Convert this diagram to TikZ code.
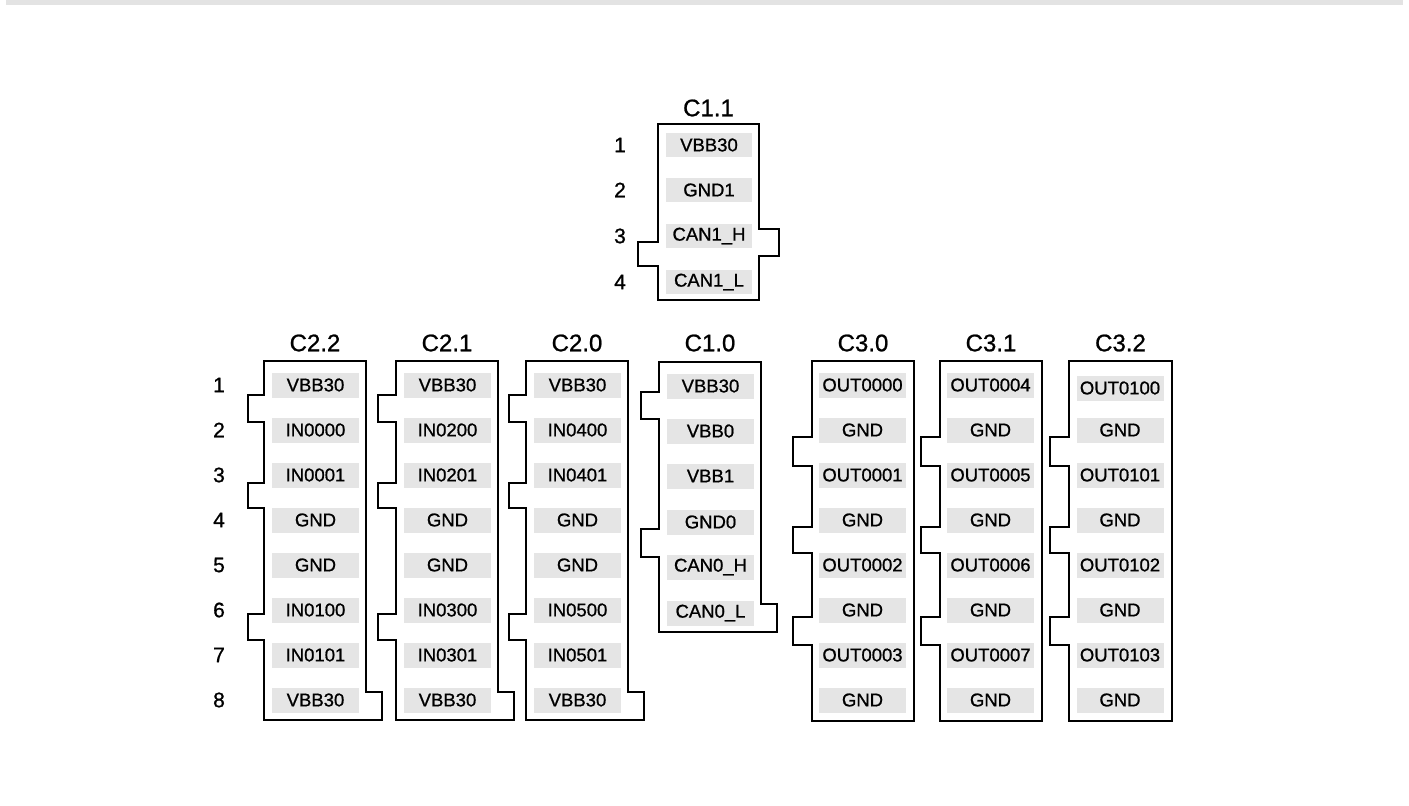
\documentclass[tikz,border=0pt]{standalone}
\usepackage{fontspec}
\setmainfont{Liberation Sans}
\newfontfamily\pinfont{Liberation Sans}[FakeBold=0.9]
\definecolor{pingray}{rgb}{0.9,0.9,0.9}
\definecolor{bargray}{rgb}{0.89,0.89,0.89}
\tikzset{
  shell/.style={line width=2.6pt, line join=miter},
  pinbox/.style={fill=pingray, minimum width=87pt, minimum height=25pt, inner sep=0pt,
    font=\pinfont\fontsize{18.5}{18.5}\selectfont},
  conntitle/.style={inner sep=0pt, font=\pinfont\fontsize{24}{24}\selectfont},
  pinnum/.style={inner sep=0pt, font=\pinfont\fontsize{21}{21}\selectfont}
}

\begin{document}
\begin{tikzpicture}[x=1pt, y=-1pt]
\useasboundingbox (0,0) rectangle (1409,806);
\fill[bargray] (6,0) rectangle (1403,5);

\begin{scope}[shift={(658,124)}]
  \draw[shell] (0,0) -- (101,0) -- (101,105) -- (121,105) -- (121,132) -- (101,132)
    -- (101,176) -- (0,176) -- (0,142) -- (-20,142) -- (-20,118) -- (0,118) -- cycle;
  \node[conntitle] (c11) at (50.5,-16) {C1.1};
  \node[pinbox, minimum width=86pt, minimum height=24pt] (c11p1) at (51,21) {VBB30};
  \node[pinbox, minimum width=86pt, minimum height=24pt] (c11p2) at (51,66) {GND1};
  \node[pinbox, minimum width=86pt, minimum height=24pt] (c11p3) at (51,112) {CAN1\_H};
  \node[pinbox, minimum width=86pt, minimum height=24pt] (c11p4) at (51,158) {CAN1\_L};
  \node[pinnum] (c11n1) at (-38,21) {1};
  \node[pinnum] (c11n2) at (-38,66) {2};
  \node[pinnum] (c11n3) at (-38,112) {3};
  \node[pinnum] (c11n4) at (-38,158) {4};
\end{scope}

\node[pinnum] (n1) at (219,385) {1};
\node[pinnum] (n2) at (219,430) {2};
\node[pinnum] (n3) at (219,475) {3};
\node[pinnum] (n4) at (219,520) {4};
\node[pinnum] (n5) at (219,565) {5};
\node[pinnum] (n6) at (219,610) {6};
\node[pinnum] (n7) at (219,655) {7};
\node[pinnum] (n8) at (219,700) {8};

\begin{scope}[shift={(264,361)}]
  \draw[shell] (0,0) -- (102,0) -- (102,331) -- (118,331) -- (118,359) -- (0,359)
    -- (0,279) -- (-16,279) -- (-16,253) -- (0,253)
    -- (0,147) -- (-16,147) -- (-16,122) -- (0,122)
    -- (0,61) -- (-16,61) -- (-16,34) -- (0,34) -- cycle;
  \node[conntitle] (c22) at (51,-18) {C2.2};
  \node[pinbox] (c22p1) at (51.5,24) {VBB30};
  \node[pinbox] (c22p2) at (51.5,69) {IN0000};
  \node[pinbox] (c22p3) at (51.5,114) {IN0001};
  \node[pinbox] (c22p4) at (51.5,159) {GND};
  \node[pinbox] (c22p5) at (51.5,204) {GND};
  \node[pinbox] (c22p6) at (51.5,249) {IN0100};
  \node[pinbox] (c22p7) at (51.5,294) {IN0101};
  \node[pinbox] (c22p8) at (51.5,339) {VBB30};
\end{scope}

\begin{scope}[shift={(396,361)}]
  \draw[shell] (0,0) -- (102,0) -- (102,331) -- (118,331) -- (118,359) -- (0,359)
    -- (0,279) -- (-18,279) -- (-18,253) -- (0,253)
    -- (0,147) -- (-18,147) -- (-18,122) -- (0,122)
    -- (0,61) -- (-18,61) -- (-18,34) -- (0,34) -- cycle;
  \node[conntitle] (c21) at (51,-18) {C2.1};
  \node[pinbox] (c21p1) at (51.5,24) {VBB30};
  \node[pinbox] (c21p2) at (51.5,69) {IN0200};
  \node[pinbox] (c21p3) at (51.5,114) {IN0201};
  \node[pinbox] (c21p4) at (51.5,159) {GND};
  \node[pinbox] (c21p5) at (51.5,204) {GND};
  \node[pinbox] (c21p6) at (51.5,249) {IN0300};
  \node[pinbox] (c21p7) at (51.5,294) {IN0301};
  \node[pinbox] (c21p8) at (51.5,339) {VBB30};
\end{scope}

\begin{scope}[shift={(526,361)}]
  \draw[shell] (0,0) -- (102,0) -- (102,331) -- (118,331) -- (118,359) -- (0,359)
    -- (0,279) -- (-17,279) -- (-17,253) -- (0,253)
    -- (0,147) -- (-17,147) -- (-17,122) -- (0,122)
    -- (0,61) -- (-17,61) -- (-17,34) -- (0,34) -- cycle;
  \node[conntitle] (c20) at (51,-18) {C2.0};
  \node[pinbox] (c20p1) at (51.5,24) {VBB30};
  \node[pinbox] (c20p2) at (51.5,69) {IN0400};
  \node[pinbox] (c20p3) at (51.5,114) {IN0401};
  \node[pinbox] (c20p4) at (51.5,159) {GND};
  \node[pinbox] (c20p5) at (51.5,204) {GND};
  \node[pinbox] (c20p6) at (51.5,249) {IN0500};
  \node[pinbox] (c20p7) at (51.5,294) {IN0501};
  \node[pinbox] (c20p8) at (51.5,339) {VBB30};
\end{scope}

\begin{scope}[shift={(659,362)}]
  \draw[shell] (0,0) -- (102,0) -- (102,242) -- (118,242) -- (118,270) -- (0,270)
    -- (0,195) -- (-18,195) -- (-18,167) -- (0,167)
    -- (0,57) -- (-18,57) -- (-18,30) -- (0,30) -- cycle;
  \node[conntitle] (c10) at (51,-19) {C1.0};
  \node[pinbox] (c10p1) at (51.5,24) {VBB30};
  \node[pinbox] (c10p2) at (51.5,69) {VBB0};
  \node[pinbox] (c10p3) at (51.5,114) {VBB1};
  \node[pinbox] (c10p4) at (51.5,160) {GND0};
  \node[pinbox] (c10p5) at (51.5,205) {CAN0\_H};
  \node[pinbox] (c10p6) at (51.5,251) {CAN0\_L};
\end{scope}

\begin{scope}[shift={(812,361)}]
  \draw[shell] (0,0) -- (102,0) -- (102,360) -- (0,360)
    -- (0,284) -- (-19,284) -- (-19,256) -- (0,256)
    -- (0,192) -- (-19,192) -- (-19,166) -- (0,166)
    -- (0,105) -- (-19,105) -- (-19,76) -- (0,76) -- cycle;
  \node[conntitle] (c30) at (51,-18) {C3.0};
  \node[pinbox] (c30p1) at (50.5,24) {OUT0000};
  \node[pinbox] (c30p2) at (50.5,69) {GND};
  \node[pinbox] (c30p3) at (50.5,114) {OUT0001};
  \node[pinbox] (c30p4) at (50.5,159) {GND};
  \node[pinbox] (c30p5) at (50.5,204) {OUT0002};
  \node[pinbox] (c30p6) at (50.5,249) {GND};
  \node[pinbox] (c30p7) at (50.5,294) {OUT0003};
  \node[pinbox] (c30p8) at (50.5,339) {GND};
\end{scope}

\begin{scope}[shift={(940,361)}]
  \draw[shell] (0,0) -- (102,0) -- (102,360) -- (0,360)
    -- (0,284) -- (-19,284) -- (-19,256) -- (0,256)
    -- (0,192) -- (-19,192) -- (-19,166) -- (0,166)
    -- (0,105) -- (-19,105) -- (-19,76) -- (0,76) -- cycle;
  \node[conntitle] (c31) at (51,-18) {C3.1};
  \node[pinbox] (c31p1) at (50.5,24) {OUT0004};
  \node[pinbox] (c31p2) at (50.5,69) {GND};
  \node[pinbox] (c31p3) at (50.5,114) {OUT0005};
  \node[pinbox] (c31p4) at (50.5,159) {GND};
  \node[pinbox] (c31p5) at (50.5,204) {OUT0006};
  \node[pinbox] (c31p6) at (50.5,249) {GND};
  \node[pinbox] (c31p7) at (50.5,294) {OUT0007};
  \node[pinbox] (c31p8) at (50.5,339) {GND};
\end{scope}

\begin{scope}[shift={(1069,361)}]
  \draw[shell, line width=2.9pt] (0,0) -- (103,0) -- (103,360) -- (0,360)
    -- (0,284) -- (-19,284) -- (-19,256) -- (0,256)
    -- (0,192) -- (-19,192) -- (-19,166) -- (0,166)
    -- (0,105) -- (-19,105) -- (-19,76) -- (0,76) -- cycle;
  \node[conntitle] (c32) at (51.5,-18) {C3.2};
  \node[pinbox] (c32p1) at (51,27) {OUT0100};
  \node[pinbox] (c32p2) at (51,69) {GND};
  \node[pinbox] (c32p3) at (51,114) {OUT0101};
  \node[pinbox] (c32p4) at (51,159) {GND};
  \node[pinbox] (c32p5) at (51,204) {OUT0102};
  \node[pinbox] (c32p6) at (51,249) {GND};
  \node[pinbox] (c32p7) at (51,294) {OUT0103};
  \node[pinbox] (c32p8) at (51,339) {GND};
\end{scope}

\end{tikzpicture}
\end{document}
